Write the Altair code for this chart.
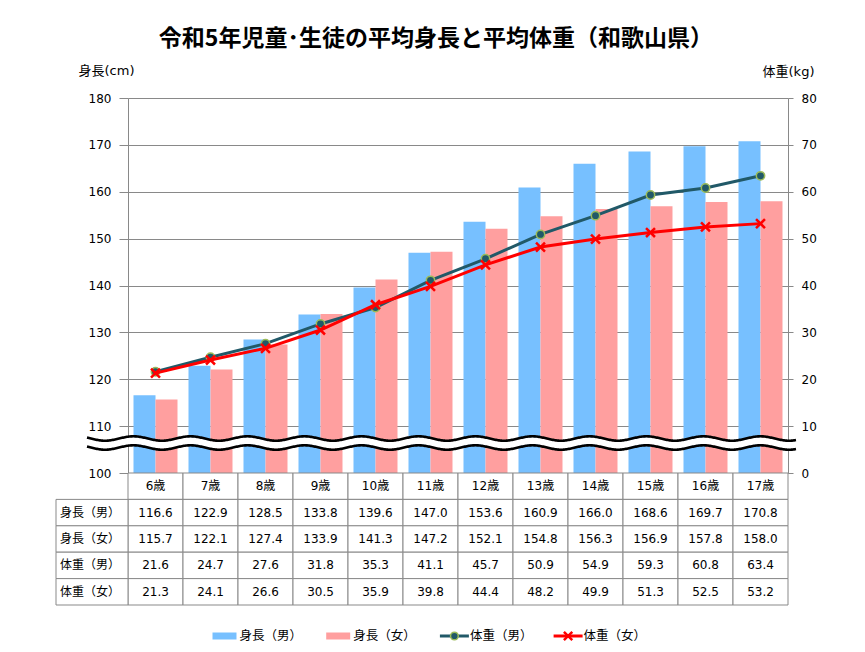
import altair as alt
import pandas as pd
import numpy as np

# ---------------- data ----------------
ages = ["6歳", "7歳", "8歳", "9歳", "10歳", "11歳", "12歳", "13歳", "14歳", "15歳", "16歳", "17歳"]
height_m = [116.6, 122.9, 128.5, 133.8, 139.6, 147.0, 153.6, 160.9, 166.0, 168.6, 169.7, 170.8]
height_f = [115.7, 122.1, 127.4, 133.9, 141.3, 147.2, 152.1, 154.8, 156.3, 156.9, 157.8, 158.0]
weight_m = [21.6, 24.7, 27.6, 31.8, 35.3, 41.1, 45.7, 50.9, 54.9, 59.3, 60.8, 63.4]
weight_f = [21.3, 24.1, 26.6, 30.5, 35.9, 39.8, 44.4, 48.2, 49.9, 51.3, 52.5, 53.2]
series = ["身長（男）", "身長（女）", "体重（男）", "体重（女）"]
colors = ["#77C0FF", "#FF9F9F", "#215968", "#FF0000"]
title_text = "令和5年児童･生徒の平均身長と平均体重（和歌山県）"

# ---------------- layout constants ----------------
W, H = 660, 375
TABLE_H = 132
FONT = "DejaVu Sans, Noto Sans CJK JP"
GRID = "#898989"

# ---------------- main plot ----------------
bars_df = pd.DataFrame({
    "age": ages * 2,
    "series": [series[0]] * len(ages) + [series[1]] * len(ages),
    "value": height_m + height_f,
})
wm_df = pd.DataFrame({"age": ages, "value": weight_m})
wf_df = pd.DataFrame({"age": ages, "value": weight_f})

xenc = alt.X("age:N", sort=ages,
             scale=alt.Scale(domain=ages, paddingInner=0.2, paddingOuter=0.1),
             axis=None)

left_axis = alt.Axis(values=list(range(100, 181, 10)), grid=True, gridColor=GRID,
                     domainColor=GRID, tickColor=GRID, tickSize=9, labelPadding=8,
                     labelFont=FONT, labelFontSize=12, labelColor="#000",
                     title="身長(cm)", titleAngle=0, titleX=-22, titleY=-28,
                     titleAlign="center", titleBaseline="middle", titleFont=FONT,
                     titleFontSize=13, titleFontWeight="normal", titleColor="#000")
right_axis = alt.Axis(orient="right", values=list(range(0, 81, 10)), grid=False,
                      domainColor=GRID, tickColor=GRID, tickSize=5, labelPadding=8,
                      labelFont=FONT, labelFontSize=12, labelColor="#000",
                      title="体重(kg)", titleAngle=0, titleX=0, titleY=-27,
                      titleAlign="center", titleBaseline="middle", titleFont=FONT,
                      titleFontSize=13, titleFontWeight="normal", titleColor="#000")

ycm = alt.Y("value:Q", scale=alt.Scale(domain=[100, 180], nice=False, zero=False), axis=left_axis)
ykg = alt.Y("value:Q", scale=alt.Scale(domain=[0, 80], nice=False), axis=right_axis)

bars = alt.Chart(bars_df).mark_bar().encode(
    x=xenc,
    xOffset=alt.XOffset("series:N", sort=series[:2],
                        scale=alt.Scale(domain=series[:2], paddingInner=0, paddingOuter=0)),
    y=ycm,
    y2=alt.datum(100),
    color=alt.Color("series:N", scale=alt.Scale(domain=series, range=colors), legend=None),
)

# decorative axis-break waves (pixel coordinates)
wx = np.arange(-41, 669, 1.0)
phase = np.cos(2 * np.pi * (wx - 347.5) / 57.0)
wave_df = pd.DataFrame({
    "px": wx,
    "up": 340.5 - 2.2 * phase,
    "mid": 345.0 - 2.2 * phase,
    "lo": 349.5 - 2.2 * phase,
})
wave_x = alt.X("px:Q", scale=None, axis=None)
wave_white = alt.Chart(wave_df).mark_line(color="white", strokeWidth=7).encode(
    x=wave_x, y=alt.Y("mid:Q", scale=None, axis=None))
wave_up = alt.Chart(wave_df).mark_line(color="#000", strokeWidth=2.6).encode(
    x=wave_x, y=alt.Y("up:Q", scale=None, axis=None))
wave_lo = alt.Chart(wave_df).mark_line(color="#000", strokeWidth=2.6).encode(
    x=wave_x, y=alt.Y("lo:Q", scale=None, axis=None))

line_m = alt.Chart(wm_df).mark_line(color=colors[2], strokeWidth=3).encode(x=xenc, y=ykg)
pts_m = alt.Chart(wm_df).mark_point(shape="circle", filled=True, size=70, fill=colors[2],
                                    stroke="#9BBB59", strokeWidth=1.5, opacity=1).encode(x=xenc, y=ykg)
line_f = alt.Chart(wf_df).mark_line(color=colors[3], strokeWidth=3).encode(x=xenc, y=ykg)
pts_f = alt.Chart(wf_df).mark_point(shape="M-1,-1L1,1M-1,1L1,-1", filled=False, size=80,
                                    stroke=colors[3], strokeWidth=2.5, opacity=1).encode(x=xenc, y=ykg)

top = alt.layer(
    alt.layer(bars, wave_white, wave_up, wave_lo),
    alt.layer(line_m, pts_m, line_f, pts_f),
).resolve_scale(y="independent").properties(width=W, height=H)

# ---------------- table ----------------
row_keys = ["r0", "r1", "r2", "r3", "r4"]
rows = []
for a in ages:
    rows.append({"age": a, "row": "r0", "text": a})
for key, vals in zip(row_keys[1:], [height_m, height_f, weight_m, weight_f]):
    for a, v in zip(ages, vals):
        rows.append({"age": a, "row": key, "text": f"{v:.1f}"})
table_df = pd.DataFrame(rows)
label_df = pd.DataFrame({"row": row_keys[1:], "label": series})

tx = alt.X("age:N", sort=ages, scale=alt.Scale(domain=ages, paddingInner=0, paddingOuter=0), axis=None)
ty = alt.Y("row:N", sort=row_keys, scale=alt.Scale(domain=row_keys, paddingInner=0, paddingOuter=0), axis=None)

cells = alt.Chart(table_df).mark_rect(fill="white", stroke=GRID, strokeWidth=1).encode(x=tx, y=ty)
cell_text = alt.Chart(table_df).mark_text(font=FONT, fontSize=12, color="#000").encode(
    x=tx, y=ty, text="text:N")
label_cells = alt.Chart(label_df).mark_rect(fill="white", stroke=GRID, strokeWidth=1).encode(
    x=alt.value(-72), x2=alt.value(0), y=ty)
label_text = alt.Chart(label_df).mark_text(font=FONT, fontSize=12, color="#000", align="left").encode(
    x=alt.value(-68), y=ty, text="label:N")

# ---------------- legend (drawn manually below the table) ----------------
LEG_X0, LEG_STEP, LEG_Y = 84.5, 113.7, 163
leg_df = pd.DataFrame({"series": series, "i": range(4)})
leg_df["x0"] = LEG_X0 + leg_df["i"] * LEG_STEP
leg_df["x1"] = leg_df["x0"] + np.where(leg_df["i"] < 2, 24, 29)
leg_df["xm"] = (leg_df["x0"] + leg_df["x1"]) / 2
leg_df["xt"] = leg_df["x1"] + np.where(leg_df["i"] < 2, 3, 1)
leg_color = alt.Color("series:N", scale=alt.Scale(domain=series, range=colors), legend=None)

leg_rect = alt.Chart(leg_df).transform_filter("datum.i < 2").mark_rect().encode(
    x=alt.X("x0:Q", scale=None, axis=None), x2="x1:Q",
    y=alt.value(LEG_Y - 3.5), y2=alt.value(LEG_Y + 3.5), color=leg_color)
leg_line = alt.Chart(leg_df).transform_filter("datum.i >= 2").mark_rule(strokeWidth=3).encode(
    x=alt.X("x0:Q", scale=None, axis=None), x2="x1:Q", y=alt.value(LEG_Y), color=leg_color)
leg_pm = alt.Chart(leg_df).transform_filter("datum.i == 2").mark_point(
    shape="circle", filled=True, size=60, fill=colors[2], stroke="#9BBB59", strokeWidth=1.5, opacity=1
).encode(x=alt.X("xm:Q", scale=None, axis=None), y=alt.value(LEG_Y))
leg_pf = alt.Chart(leg_df).transform_filter("datum.i == 3").mark_point(
    shape="M-1,-1L1,1M-1,1L1,-1", filled=False, size=70, stroke=colors[3], strokeWidth=2.5, opacity=1
).encode(x=alt.X("xm:Q", scale=None, axis=None), y=alt.value(LEG_Y))
leg_text = alt.Chart(leg_df).mark_text(font=FONT, fontSize=12.5, color="#000", align="left").encode(
    x=alt.X("xt:Q", scale=None, axis=None), y=alt.value(LEG_Y), text="series:N")

table = alt.layer(cells, cell_text, label_cells, label_text,
                  leg_rect, leg_line, leg_pm, leg_pf, leg_text).properties(width=W, height=TABLE_H)

chart = alt.vconcat(top, table, spacing=0, bounds="flush").resolve_scale(
    x="independent", y="independent", color="independent"
).properties(
    title=alt.Title(text=title_text, font="Noto Sans CJK JP", fontSize=23, fontWeight="bold",
                    color="#000", offset=13, anchor="middle"),
    padding={"left": 47, "top": 20, "right": 5, "bottom": 5},
).configure_view(stroke=None)

chart.save("out.html", embed_options={"renderer": "svg", "actions": False})
